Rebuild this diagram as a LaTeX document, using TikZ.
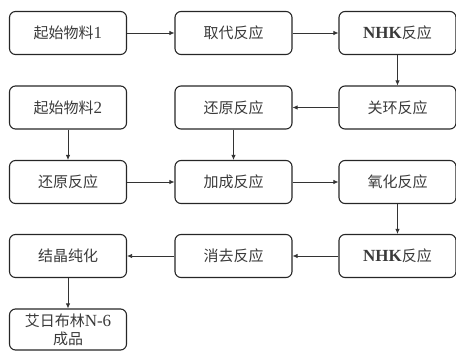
\documentclass[tikz,border=0pt]{standalone}
\usepackage{fontspec}
\setmainfont{Liberation Serif}
\newfontfamily\cjk{Noto Sans CJK SC}
\newcommand{\lat}[1]{{\fontsize{17pt}{17pt}\selectfont #1}}
\usetikzlibrary{arrows.meta}
\definecolor{txt}{HTML}{3A3A3A}
\tikzset{
  box/.style={draw=black!85, line width=1.1pt, rounded corners=6pt, minimum width=117pt, minimum height=43pt, inner sep=0pt, align=center, text=txt, font=\fontsize{15pt}{17pt}\selectfont},
  conn/.style={draw=black!80, line width=0.8pt, -{Latex[length=5pt,width=4.5pt]}}
}
\begin{document}
\begin{tikzpicture}[x=1pt,y=-1pt]
\useasboundingbox (0,0) rectangle (456,351);
\node[box] (a1) at (68,33) {{\cjk 起始物料}\lat{1}};
\node[box] (a2) at (233.5,33) {{\cjk 取代反应}};
\node[box] (a3) at (397.5,33) {\lat{\bfseries NHK}{\cjk 反应}};
\node[box] (b1) at (68,107.5) {{\cjk 起始物料}\lat{2}};
\node[box] (b2) at (233.5,107.5) {{\cjk 还原反应}};
\node[box] (b3) at (397.5,107.5) {{\cjk 关环反应}};
\node[box] (c1) at (68,182) {{\cjk 还原反应}};
\node[box] (c2) at (233.5,182) {{\cjk 加成反应}};
\node[box] (c3) at (397.5,182) {{\cjk 氧化反应}};
\node[box] (d1) at (68,256) {{\cjk 结晶纯化}};
\node[box] (d2) at (233.5,256) {{\cjk 消去反应}};
\node[box] (d3) at (397.5,256) {\lat{\bfseries NHK}{\cjk 反应}};
\node[box, minimum height=41pt, font=\fontsize{15pt}{18pt}\selectfont] (e1) at (68,329.5) {{\cjk 艾日布林}\lat{N-6}\\{\cjk 成品}};
\draw[conn] (a1) -- (a2);
\draw[conn] (a2) -- (a3);
\draw[conn] (a3) -- (b3);
\draw[conn] (b3) -- (b2);
\draw[conn] (b2) -- (c2);
\draw[conn] (b1) -- (c1);
\draw[conn] (c1) -- (c2);
\draw[conn] (c2) -- (c3);
\draw[conn] (c3) -- (d3);
\draw[conn] (d3) -- (d2);
\draw[conn] (d2) -- (d1);
\draw[conn] (d1) -- (e1);
\end{tikzpicture}
\end{document}
